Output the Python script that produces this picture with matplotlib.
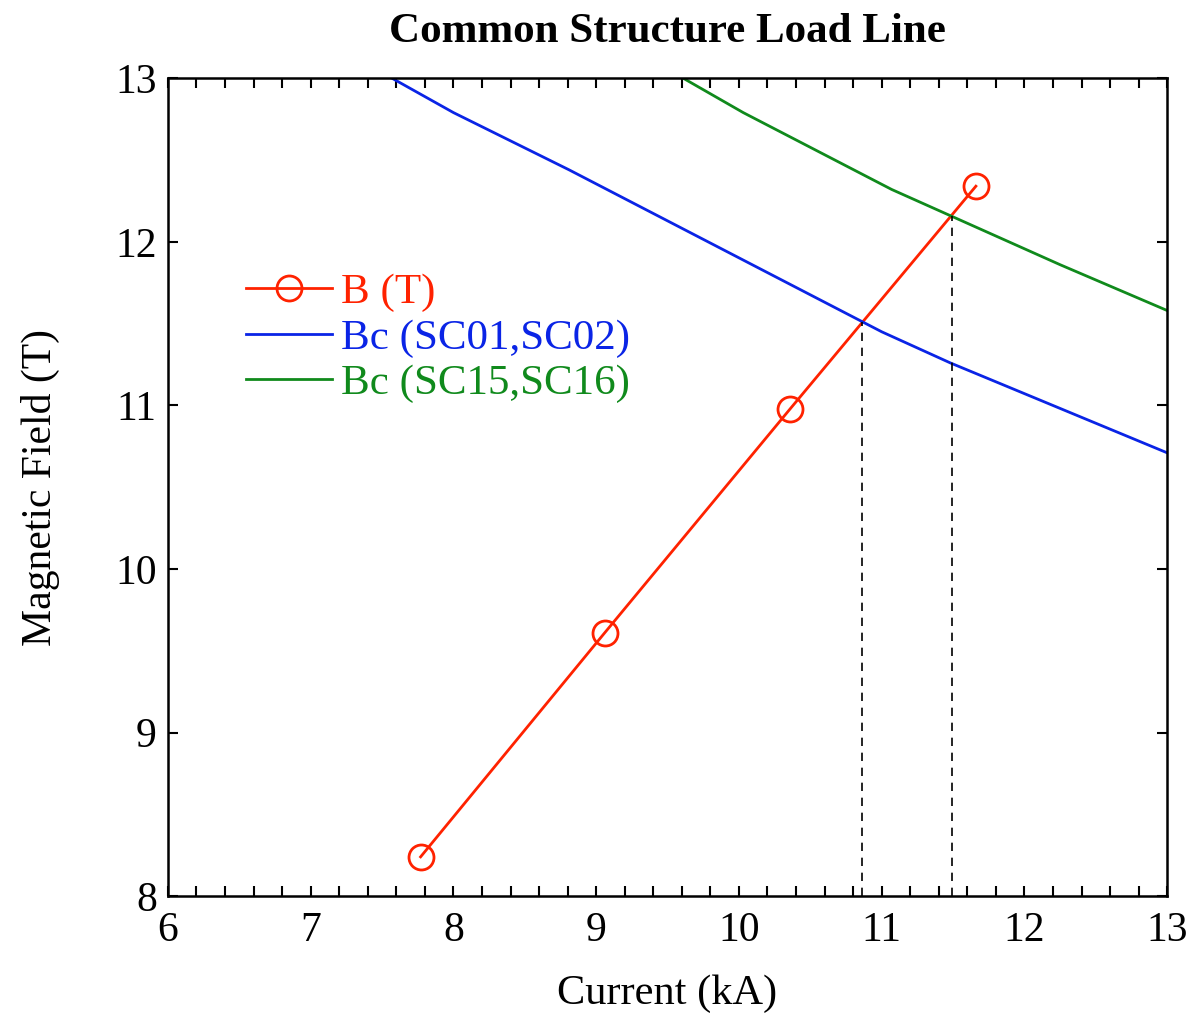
import numpy as np
import matplotlib
matplotlib.use("Agg")
import matplotlib.pyplot as plt
from matplotlib.ticker import MultipleLocator

plt.rcParams['font.family'] = ['Liberation Serif', 'DejaVu Serif']
plt.rcParams['mathtext.fontset'] = 'stix'

# load line B(I)
current = [7.77, 9.06, 10.36, 11.66]
field = [8.24, 9.61, 10.98, 12.34]

# critical field curves
bc1_x = [7.57, 8.0, 8.81, 11.0, 11.48, 13.0]
bc1_y = [13.0, 12.79, 12.44, 11.45, 11.26, 10.71]
bc2_x = [9.61, 10.03, 11.07, 12.25, 13.0]
bc2_y = [13.0, 12.79, 12.32, 11.86, 11.58]

# intersections (dashed markers)
cross_x = [10.86, 11.49]
cross_y = [11.51, 12.16]

red = '#ff2200'
blue = '#0a24e6'
green = '#108a1c'

fig = plt.figure(figsize=(11.91, 10.16), dpi=100)
ax = fig.add_axes([0.141, 0.118, 0.839, 0.805])

ax.plot(current, field, '-o', color=red, lw=2, mfc='none', mec=red,
        ms=18, mew=2, label='B (T)')
ax.plot(bc1_x, bc1_y, '-', color=blue, lw=2, label='Bc (SC01,SC02)')
ax.plot(bc2_x, bc2_y, '-', color=green, lw=2, label='Bc (SC15,SC16)')
for cx, cy in zip(cross_x, cross_y):
    ax.plot([cx, cx], [8, cy], '--', color='black', lw=1.2, dashes=(5, 4))

ax.set_xlim(6, 13)
ax.set_ylim(8, 13)
ax.xaxis.set_major_locator(MultipleLocator(1))
ax.xaxis.set_minor_locator(MultipleLocator(0.2))
ax.yaxis.set_major_locator(MultipleLocator(1))
ax.tick_params(which='both', direction='in', top=True, right=True,
               labelsize=30, width=1.5, length=7)
ax.tick_params(axis='x', pad=11)
ax.tick_params(axis='y', pad=8)
for s in ax.spines.values():
    s.set_linewidth(1.8)

ax.set_xlabel('Current (kA)', fontsize=30.5, labelpad=18)
ax.set_ylabel('Magnetic Field (T)', fontsize=30, labelpad=40)
ax.set_title('Common Structure Load Line', fontsize=31, fontweight='bold', pad=26)

leg = ax.legend(loc='upper left', bbox_to_anchor=(0.078, 0.762), frameon=False,
                fontsize=31, handlelength=2.0, handletextpad=0.2,
                labelspacing=0.15, borderpad=0, borderaxespad=0)
for t, c in zip(leg.get_texts(), [red, blue, green]):
    t.set_color(c)

fig.savefig('out.png', dpi=100)
